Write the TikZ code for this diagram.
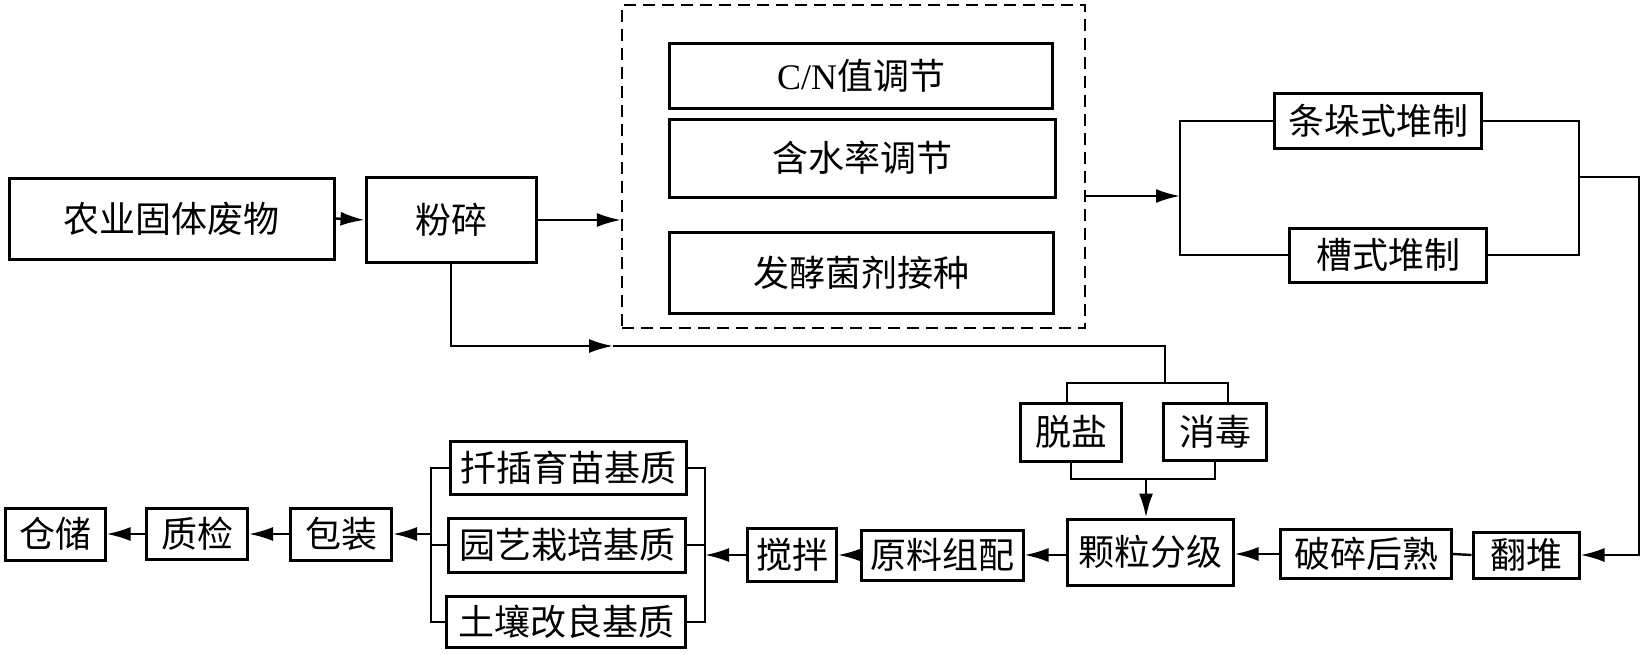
\documentclass[tikz,border=0pt]{standalone}
\usepackage{fontspec}
\newfontfamily\cjk{Noto Sans CJK SC}
\newfontfamily\latinserif{Liberation Serif}
\usetikzlibrary{arrows.meta}

\begin{document}
\begin{tikzpicture}[x=0.5pt,y=-0.5pt,
	box/.style={draw, line width=1.5pt, inner sep=0pt, font=\cjk\fontsize{18}{20}\selectfont},
	link/.style={line width=1.2pt},
	thinlink/.style={line width=0.8pt},
	flow/.style={line width=1.2pt, -{Latex[length=12pt,width=7pt]}}]
	\useasboundingbox (0,0) rectangle (1643,654);
	
	\node (nongye) at (171.5,218.5) [box, minimum width=162.5pt, minimum height=40.5pt] {农业固体废物};
	\node (fensui) at (451,220) [box, minimum width=85pt, minimum height=42.5pt] {粉碎};
	\node (tiaojie) at (853.5,166.5) [draw, dashed, dash pattern=on 6pt off 3.5pt, line width=1.1pt, minimum width=231.5pt, minimum height=161.5pt] {};
	\node (cn) at (861,76) [box, minimum width=191.5pt, minimum height=32.5pt] {{\latinserif C/N}值调节};
	\node (hanshui) at (862,158) [box, minimum width=193pt, minimum height=39pt] {含水率调节};
	\node (fajiao) at (861,273) [box, minimum width=192pt, minimum height=40.5pt] {发酵菌剂接种};
	
	\draw[flow] (nongye.east) -- (fensui.west);
	\draw[flow] (fensui.east) -- (tiaojie.west |- fensui.east);
	
	\node (tiaoduo) at (1378,121) [box, minimum width=103.5pt, minimum height=27.5pt] {条垛式堆制};
	\node (caoshi) at (1388,255) [box, minimum width=98.5pt, minimum height=27pt] {槽式堆制};
	\coordinate (fenzhi) at (1180,196);
	\coordinate (huiju) at (1579,177);
	\coordinate (youbian) at (1639,177);
	
	\draw[flow] (tiaojie.east |- fenzhi) -- (fenzhi);
	\draw[thinlink] (tiaoduo.west) -| (fenzhi) |- (caoshi.west);
	\draw[link] (tiaoduo.east) -| (huiju) |- (caoshi.east);
	
	\node (fandui) at (1526,555) [box, minimum width=53pt, minimum height=23pt] {翻堆};
	\node (posui) at (1366,554) [box, minimum width=85.5pt, minimum height=24.5pt] {破碎后熟};
	\node (keli) at (1150,552) [box, minimum width=83pt, minimum height=33pt] {颗粒分级};
	\node (tuoyan) at (1071,432) [box, minimum width=50.5pt, minimum height=29pt] {脱盐};
	\node (xiaodu) at (1215,432) [box, minimum width=51.5pt, minimum height=28.5pt] {消毒};
	
	\draw[flow] (huiju) -- (youbian) |- (fandui.east);
	\draw[link] (fandui.west) -- (posui.east);
	\draw[flow] (posui.west) -- (keli.east |- posui.west);
	
	\coordinate (jiantou) at (613,346);
	\coordinate (shangkou) at (1165,346);
	\coordinate (dingliang) at (1165,383);
	\coordinate (diliang) at (1146,479);
	
	\draw[flow] (fensui.south) |- (jiantou);
	\draw[link] (jiantou) -- (shangkou) -- (dingliang);
	\draw[link] ([xshift=-2pt]tuoyan.north) |- (dingliang) -| ([xshift=6.5pt]xiaodu.north);
	\draw[link] (tuoyan.south) |- (diliang) -| (xiaodu.south);
	\draw[flow] (diliang) -- (diliang |- keli.north);
	
	\node (yuanliao) at (942,555) [box, minimum width=81pt, minimum height=25pt] {原料组配};
	\node (jiaoban) at (792,555) [box, minimum width=44.5pt, minimum height=26.5pt] {搅拌};
	\node (qiancha) at (568,468) [box, minimum width=118pt, minimum height=26.5pt] {扦插育苗基质};
	\node (yuanyi) at (567,545) [box, minimum width=118.5pt, minimum height=27pt] {园艺栽培基质};
	\node (turang) at (566,622) [box, minimum width=119.5pt, minimum height=25.5pt] {土壤改良基质};
	\coordinate (youzhi) at (705,553);
	\coordinate (zuozhi) at (431,534);
	
	\draw[flow] (keli.west |- yuanliao.east) -- (yuanliao.east);
	\draw[flow] (yuanliao.west) -- (jiaoban.east);
	\draw[flow] (jiaoban.west) -- (jiaoban.west -| youzhi);
	\draw[link] (qiancha.east) -- (qiancha.east -| youzhi) -- (turang.east -| youzhi) -- (turang.east);
	\draw[link] (yuanyi.east) -- (yuanyi.east -| youzhi);
	\draw[link] (qiancha.west) -- (qiancha.west -| zuozhi) -- (turang.west -| zuozhi) -- (turang.west);
	\draw[link] (yuanyi.west) -- (yuanyi.west -| zuozhi);
	
	\node (baozhuang) at (341,534) [box, minimum width=50.5pt, minimum height=26pt] {包装};
	\node (zhijian) at (197,534) [box, minimum width=50.5pt, minimum height=25.5pt] {质检};
	\node (cangchu) at (55,534) [box, minimum width=50pt, minimum height=26pt] {仓储};
	
	\draw[flow] (zuozhi) -- (baozhuang.east);
	\draw[flow] (baozhuang.west) -- (zhijian.east);
	\draw[flow] (zhijian.west) -- (cangchu.east);
	
\end{tikzpicture}
\end{document}
